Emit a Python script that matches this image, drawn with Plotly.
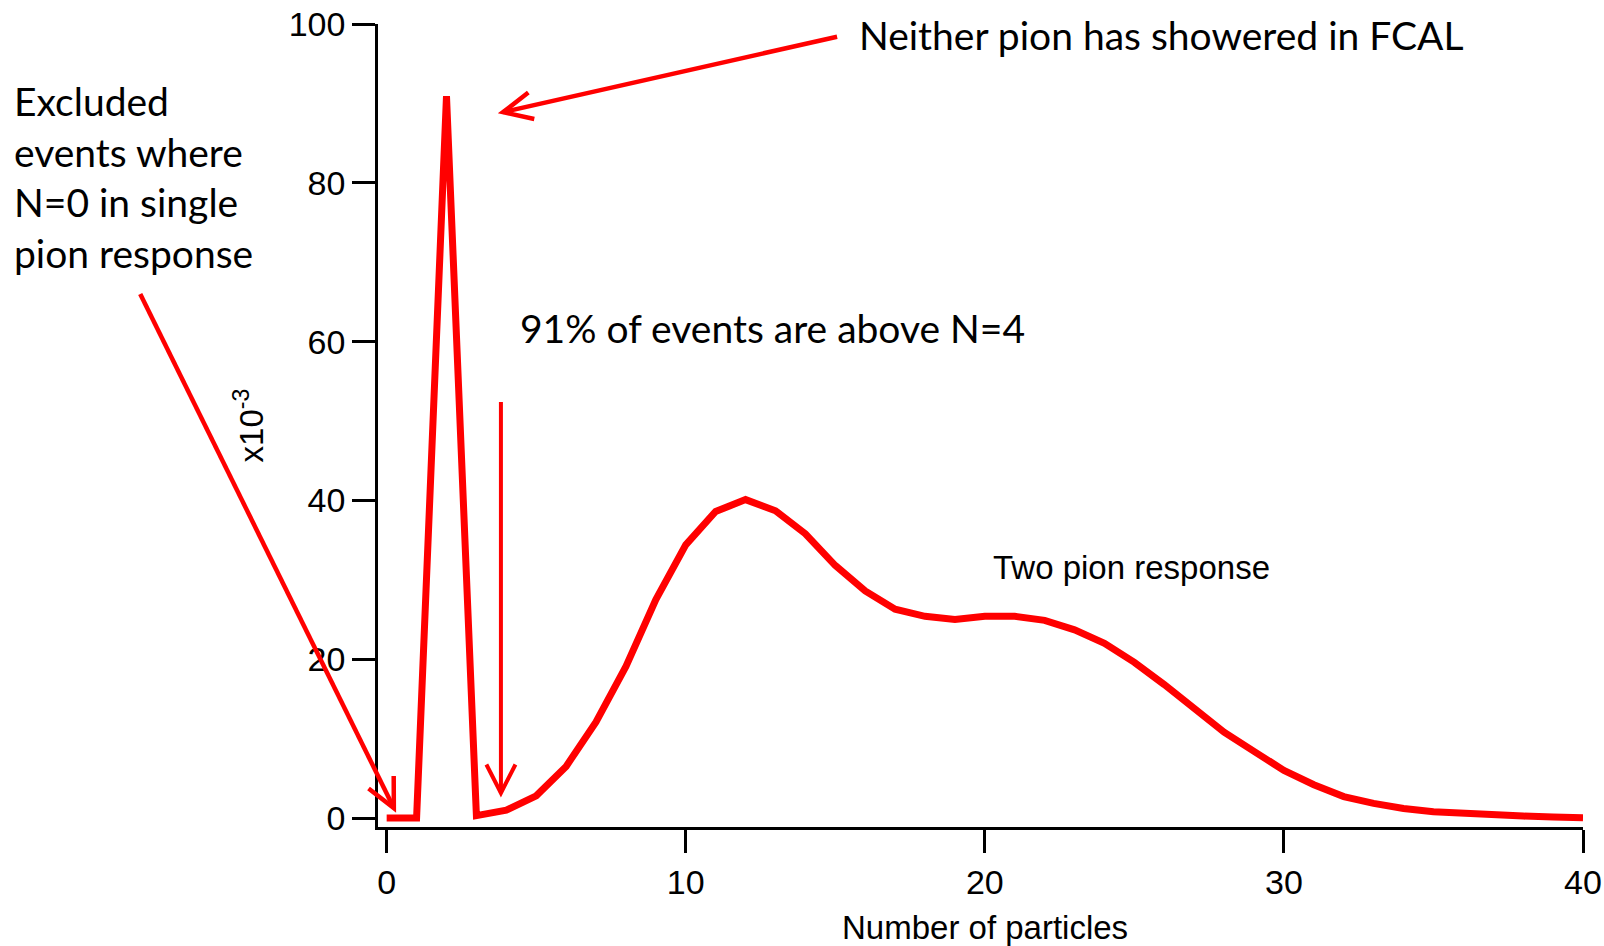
import math
import plotly.graph_objects as go

# ---- data ----
n_particles = list(range(0, 41))
response = [0.0, 0.0, 90.9, 0.3, 1.0, 2.8, 6.5, 12.1, 19.1, 27.5,
            34.4, 38.6, 40.1, 38.7, 35.8, 31.8, 28.6, 26.3, 25.4, 25.0,
            25.4, 25.4, 24.9, 23.7, 22.0, 19.6, 16.8, 13.7, 10.8, 8.4,
            6.0, 4.2, 2.7, 1.85, 1.2, 0.8, 0.55, 0.4, 0.25, 0.12, 0.05]
x_ticks = [0, 10, 20, 30, 40]
y_ticks = [0, 20, 40, 60, 80, 100]

# ---- layout geometry ----
W, H = 1604, 946
ML, MR, MT, MB = 378, 21, 24, 119
XR = [-0.29, 40]
YR = [-1.13, 100]
PW = W - ML - MR
PH = H - MT - MB

RED = "#FF0000"
CAL = "Lato"
ARI = "Liberation Sans, Arial, sans-serif"


def to_paper(x, y):
    return (x - XR[0]) / (XR[1] - XR[0]), (y - YR[0]) / (YR[1] - YR[0])


fig = go.Figure()
fig.add_trace(go.Scatter(x=n_particles, y=response, mode="lines",
                         line=dict(color=RED, width=7), showlegend=False,
                         hoverinfo="skip"))

shapes = []


def arrow(tail, tip, width=4.5, arm=32, ang=26):
    tx, ty = to_paper(*tail)
    hx, hy = to_paper(*tip)
    shapes.append(dict(type="line", xref="paper", yref="paper",
                       x0=tx, y0=ty, x1=hx, y1=hy,
                       line=dict(color=RED, width=width)))
    dx = (tx - hx) * PW
    dy = (ty - hy) * PH
    base = math.atan2(dy, dx)
    pts = []
    for s in (-1, 1):
        a = base + s * math.radians(ang)
        pts.append((hx + arm * math.cos(a) / PW, hy + arm * math.sin(a) / PH))
    path = "M{:.5f},{:.5f} L{:.5f},{:.5f} L{:.5f},{:.5f}".format(
        pts[0][0], pts[0][1], hx, hy, pts[1][0], pts[1][1])
    shapes.append(dict(type="path", xref="paper", yref="paper", path=path,
                       line=dict(color=RED, width=width)))


arrow((15.06, 98.4), (3.89, 88.9), width=4.5, ang=25)
arrow((3.82, 52.4), (3.82, 3.15), width=4, ang=27)
arrow((-8.24, 66.0), (0.24, 1.26), width=4.5, ang=26)

ex_x, ex_y = to_paper(-12.53, 80.7)
xt_x, _ = to_paper(20, 0)

annotations = [
    dict(x=15.73, y=98.6, xref="x", yref="y", xanchor="left", yanchor="middle",
         text="Neither pion has showered in FCAL", showarrow=False,
         font=dict(family=CAL, size=39, color="black")),
    dict(x=4.39, y=61.7, xref="x", yref="y", xanchor="left", yanchor="middle",
         text="91% of events are above N=4", showarrow=False,
         font=dict(family=CAL, size=39, color="black")),
    dict(x=ex_x, y=ex_y, xref="paper", yref="paper", xanchor="left",
         yanchor="middle", align="left",
         text="Excluded<br>events where<br>N=0 in single<br>pion response",
         showarrow=False, font=dict(family=CAL, size=39, color="black")),
    dict(x=20.22, y=31.5, xref="x", yref="y", xanchor="left", yanchor="middle",
         text="Two pion response", showarrow=False,
         font=dict(family=ARI, size=33, color="black")),
    # x-axis title
    dict(x=xt_x, y=0, xref="paper", yref="paper", xanchor="center",
         yanchor="middle", yshift=-100, text="Number of particles",
         showarrow=False, font=dict(family=ARI, size=33, color="black")),
]

axis_common = dict(showline=True, linecolor="black", linewidth=2.5,
                   ticks="outside", ticklen=23, tickwidth=2.5,
                   tickcolor="black", showgrid=False, zeroline=False,
                   automargin=False,
                   tickfont=dict(family=ARI, size=34, color="black"))

fig.update_layout(
    width=W, height=H,
    margin=dict(l=ML, r=MR, t=MT, b=MB),
    paper_bgcolor="white", plot_bgcolor="white",
    xaxis=dict(range=XR, tickvals=x_ticks, ticktext=[str(v) for v in x_ticks],
               ticklabelstandoff=0,
               **axis_common),
    yaxis=dict(range=YR, tickvals=y_ticks, ticktext=[str(v) for v in y_ticks],
               ticklabelstandoff=0,
               title=dict(text="x10<sup>-3</sup>", standoff=16,
                          font=dict(family=ARI, size=33, color="black")),
               **axis_common),
    annotations=annotations,
    shapes=shapes,
)

fig.write_html("out.html",
               config={"displayModeBar": False},
               post_script="document.body.style.margin='0px';"
                           "document.body.style.overflow='hidden';")
